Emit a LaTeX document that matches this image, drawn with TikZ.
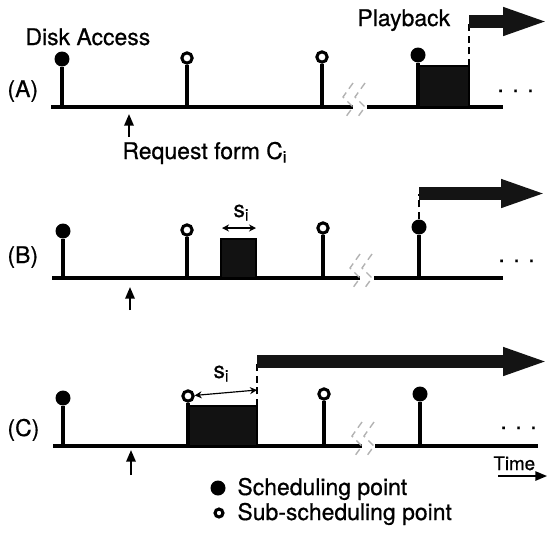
\documentclass[tikz,border=0pt]{standalone}
\usepackage{fontspec}
\setmainfont{TeX Gyre Heros}[FakeBold=0.6]
\usetikzlibrary{arrows.meta, positioning}

\tikzset{
	schednode/.style={
			circle,
			fill=black,
			inner sep=0pt,
			minimum size=6.4pt
		},
	subnode/.style={
			circle,
			draw=black,
			fill=white,
			line width=1.3pt,
			inner sep=0pt,
			minimum size=4.4pt
		},
	timeline/.style={line width=1.4pt},
	stemline/.style={line width=1.3pt},
	diskblock/.style={fill=black!93, draw=black, line width=0.6pt},
	playarrow/.style={
			line width=5.5pt,
			draw=black!92,
			-{Triangle[length=20pt, width=10.6pt]}
		},
	guide/.style={densely dashed, line width=0.45pt},
	breakline/.style={gray!60, densely dashed, line width=0.6pt},
	reqarrow/.style={line width=0.9pt, -{Triangle[length=5pt, width=4pt]}},
	sizearrow/.style={line width=0.5pt, {Stealth[length=3pt, width=3pt]}-{Stealth[length=3pt, width=3pt]}},
	textnode/.style={
			inner sep=0pt,
			anchor=base west,
			font=\fontsize{9.8}{11}\selectfont
		},
	pics/timebreak/.style={
			code={
				\draw[breakline] (10,-24) -- (0,-10) -- (10,0) -- (2,11);
				\draw[breakline] (22,-24) -- (12,-10) -- (22,0) -- (14,11);
			}
		}
}

\begin{document}
\begin{tikzpicture}[x=0.015cm, y=-0.015cm]
\useasboundingbox (0,0) rectangle (551,544);

% row A
\node[textnode] (diskacc) at (25,45) {Disk Access};
\node[textnode] (playlbl) at (357,26) {Playback};
\node[textnode] (rowa) at (7,97) {(A)};

\draw[timeline] (51,107) -- (353,107);
\draw[timeline] (367,107) -- (503,107);
\pic at (343,107) {timebreak};

\draw[diskblock] (418,107) rectangle (469,66);

\node[schednode] (a1) at (62,59) {};
\node[subnode] (a2) at (187,58) {};
\node[subnode] (a3) at (322,57) {};
\node[schednode] (a4) at (418,55) {};

\draw[stemline] (a1) -- (62,107);
\draw[stemline] (a2) -- (187,107);
\draw[stemline] (a3) -- (322,107);
\draw[stemline] (a4) -- (418,107);

\coordinate (aplay) at (469,21.5);
\coordinate (aend) at (550,21.5);
\draw[guide] (469,66) -- (aplay);
\draw[playarrow] (aplay) -- (aend);

\node[textnode] (adots) at (497,92) {. . .};

\coordinate (areq) at (129,137);
\coordinate (areqtip) at (129,114);
\draw[reqarrow] (areq) -- (areqtip);
\node[textnode] (reqlbl) at (122,159) {Request form C\textsubscript{i}};

% row B
\node[textnode] (rowb) at (7,263) {(B)};

\draw[timeline] (52,278) -- (360,278);
\draw[timeline] (374,278) -- (503,278);
\pic at (350,278) {timebreak};

\draw[diskblock] (221,278) rectangle (256,239);

\node[schednode] (b1) at (63,231) {};
\node[subnode] (b2) at (187,230) {};
\node[subnode] (b3) at (323,228) {};
\node[schednode] (b4) at (419,227) {};

\draw[stemline] (b1) -- (63,278);
\draw[stemline] (b2) -- (187,278);
\draw[stemline] (b3) -- (323,278);
\draw[stemline] (b4) -- (419,278);

\coordinate (bsl) at (222,228);
\coordinate (bsr) at (256,228);
\draw[sizearrow] (bsl) -- (bsr);
\node[textnode] (bsize) at (233,217) {s\textsubscript{i}};

\coordinate (bplay) at (419,193.5);
\coordinate (bend) at (548,193.5);
\draw[guide] (b4) -- (bplay);
\draw[playarrow] (bplay) -- (bend);

\node[textnode] (bdots) at (498,262) {. . .};

\coordinate (breq) at (130,310);
\coordinate (breqtip) at (130,287);
\draw[reqarrow] (breq) -- (breqtip);

% row C
\node[textnode] (rowc) at (7,436) {(C)};

\draw[timeline] (53,446) -- (362,446);
\draw[timeline] (375,446) -- (538,446);
\pic at (352,446) {timebreak};

\draw[diskblock] (188,446) rectangle (257,406);

\node[schednode] (c1) at (63,398) {};
\node[subnode] (c2) at (188,396) {};
\node[subnode] (c3) at (324,394) {};
\node[schednode] (c4) at (420,394) {};

\draw[stemline] (c1) -- (63,446);
\draw[stemline] (c2) -- (188,446);
\draw[stemline] (c3) -- (324,446);
\draw[stemline] (c4) -- (420,446);

\coordinate (csr) at (257,390);
\draw[sizearrow] (c2) -- (csr);
\node[textnode] (csize) at (213,378) {s\textsubscript{i}};

\coordinate (cplay) at (257,361.5);
\coordinate (cend) at (550,361.5);
\draw[guide] (257,406) -- (cplay);
\draw[playarrow] (cplay) -- (cend);

\node[textnode] (cdots) at (500,429) {. . .};

\coordinate (creq) at (131,475);
\coordinate (creqtip) at (131,450);
\draw[reqarrow] (creq) -- (creqtip);

% time axis note
\node[textnode, font=\fontsize{8}{9}\selectfont] (timelbl) at (493,470) {Time};
\coordinate (tstart) at (498,476);
\coordinate (tend) at (547,476);
\draw[line width=0.7pt, -{Triangle[length=5pt, width=4pt]}] (tstart) -- (tend);

% legend
\node[schednode] (legsched) at (218,488) {};
\node[textnode] (legschedlbl) at (237,495) {Scheduling point};
\node[subnode, minimum size=3.4pt] (legsub) at (219,513) {};
\node[textnode] (legsublbl) at (237,520) {Sub-scheduling point};

\end{tikzpicture}
\end{document}
